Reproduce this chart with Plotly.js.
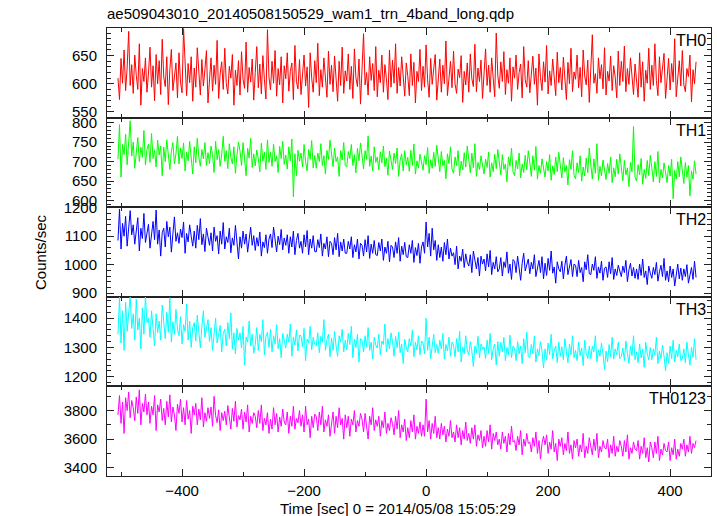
<!DOCTYPE html>
<html>
<head>
<meta charset="utf-8">
<script src="https://cdn.plot.ly/plotly-3.0.1.min.js"></script>
<style>html,body{margin:0;padding:0;background:#fff;}#chart{width:717px;height:516px;}</style>
</head>
<body>
<div id="chart"></div>
<script>
// Time bins (sec, relative to 2014/05/08 15:05:29)
const binStart = -505;
const binWidth = 2.5;

const panelLabels = ["TH0", "TH1", "TH2", "TH3", "TH0123"];

const th0 = [
610,572,645,601,660,588,628,693,597,634,
583,651,615,590,671,562,627,604,646,585,
619,665,594,632,570,652,600,641,581,679,
612,595,648,563,625,661,588,617,637,575,
655,603,584,698,621,579,636,602,648,569,
628,594,664,611,580,643,596,625,659,566,
605,646,587,633,599,677,574,618,639,590,
663,601,582,631,610,652,562,624,597,641,
580,657,608,592,674,585,629,603,644,571,
620,666,593,635,582,650,607,573,696,612,
589,640,601,659,578,627,598,648,566,632,
609,655,587,622,637,572,668,604,591,643,
581,619,651,596,630,558,655,610,585,641,
602,672,579,625,594,646,608,576,658,599,
633,586,649,610,569,640,597,665,583,623,
605,653,590,631,574,662,611,595,644,564,
627,689,598,620,580,648,606,636,588,666,
577,624,602,651,585,634,609,572,660,594,
642,601,671,583,629,596,648,610,578,637,
614,579,653,597,638,566,622,604,661,588,
631,594,669,607,576,645,599,626,652,571,
608,644,585,633,600,676,579,616,640,593,
658,600,583,626,611,650,567,622,598,637,
585,653,609,595,670,586,628,604,642,574,
619,662,597,633,585,646,610,577,690,615,
592,639,604,657,581,625,601,646,569,630,
610,651,590,620,635,575,666,607,594,641,
584,617,649,599,628,562,653,611,588,639,
603,668,582,623,597,644,609,579,656,602,
629,589,647,613,572,638,600,663,586,621,
608,651,593,629,577,660,614,598,642,567,
625,687,601,618,583,646,609,634,591,664,
580,622,605,649,588,632,612,575,658,597,
640,604,667,586,627,599,646,613,581,635,
611,576,655,594,639,569,624,601,663,590,
633,597,671,606,579,648,602,628,654,574,
607,645,589,636,603,680,577,619,641,596,
659,598,586,627,613,651,568,625,600,639];

const th1 = [
706,795,660,744,718,770,692,738,805,714,
750,683,727,762,700,737,711,780,692,731,
745,698,772,708,730,686,755,717,740,664,
737,700,756,712,680,726,749,694,720,765,
694,735,708,748,676,724,702,752,715,668,
738,697,760,712,688,731,707,749,690,723,
695,740,718,672,752,705,731,688,719,765,
701,728,682,746,711,694,738,670,717,750,
727,690,749,705,664,734,709,760,685,720,
689,730,708,674,747,701,724,680,756,698,
725,688,745,700,715,672,739,708,752,693,
717,681,738,702,758,610,720,664,729,701,
722,686,744,700,676,731,706,754,684,716,
683,722,700,746,690,715,668,729,706,755,
720,687,735,700,712,662,728,704,749,690,
686,726,708,744,690,718,671,734,702,748,
716,681,728,706,766,688,714,676,738,698,
712,679,725,697,740,687,709,665,727,702,
680,722,695,735,662,704,720,676,728,692,
711,675,729,690,745,668,702,684,719,699,
678,715,692,736,670,705,683,724,688,742,
709,674,726,689,703,656,720,695,738,681,
670,712,690,728,664,701,679,723,686,740,
705,671,722,684,746,662,698,680,715,693,
668,706,685,725,660,697,674,719,682,731,
702,666,718,680,694,648,712,688,735,674,
664,703,681,722,658,694,672,716,679,728,
698,662,715,678,739,655,690,670,707,686,
660,700,676,718,652,689,667,712,674,724,
694,658,710,673,690,640,705,680,728,665,
656,697,672,715,650,686,663,709,671,735,
692,655,707,670,746,652,688,664,704,679,
654,695,670,712,646,684,661,706,668,720,
688,651,703,666,684,636,698,674,790,660,
650,692,666,708,642,680,657,703,664,716,
684,648,700,662,726,645,680,658,697,672,
646,690,663,706,605,678,655,700,661,712,
682,644,698,660,690,612,676,655,702,668];

const th2 = [
1085,1195,1055,1145,1100,1170,1065,1125,1190,1105,
1140,1072,1112,1165,1048,1128,1092,1180,1078,1118,
1142,1058,1108,1152,1088,1192,1072,1122,1030,1112,
1128,1062,1152,1098,1132,1044,1108,1168,1082,1112,
1075,1125,1095,1150,1040,1110,1080,1140,1100,1065,
1118,1058,1138,1088,1162,1070,1108,1046,1128,1096,
1068,1112,1048,1132,1082,1102,1038,1118,1072,1148,
1055,1098,1078,1128,1042,1094,1068,1138,1084,1020,
1098,1058,1118,1072,1108,1044,1088,1132,1068,1102,
1050,1095,1065,1115,1030,1080,1060,1105,1040,1090,
1108,1060,1132,1078,1045,1100,1070,1124,1052,1094,
1068,1105,1040,1098,1062,1118,1035,1085,1110,1058,
1082,1040,1105,1062,1120,1035,1090,1058,1102,1046,
1045,1088,1060,1108,1030,1075,1055,1098,1028,1082,
1075,1035,1095,1052,1110,1028,1080,1048,1090,1040,
1040,1082,1055,1098,1025,1070,1045,1090,1020,1075,
1068,1030,1088,1045,1102,1022,1072,1040,1085,1035,
1032,1078,1048,1090,1015,1062,1040,1082,1010,1068,
1062,1025,1080,1040,1095,1012,1065,1035,1078,1028,
1025,1070,1040,1085,1008,1060,1032,1075,1005,1062,
1080,1040,1150,1062,1110,1030,1128,1052,1085,1015,
1070,1025,1062,1012,1078,1035,1090,1020,1058,1030,
1042,1000,1065,985,1030,1012,1055,990,1038,1008,
995,1035,972,1048,1010,985,1025,960,1030,1002,
1020,978,1038,992,1050,965,1008,985,1028,975,
985,1025,960,1010,990,1045,970,1002,948,1018,
1012,972,1030,988,945,1005,1040,978,995,1020,
968,1008,985,1035,958,995,1015,972,1028,950,
1005,962,1022,980,1048,970,992,935,1010,985,
975,1012,950,998,1030,965,990,1018,958,1002,
998,958,1015,972,990,940,1010,982,1035,968,
965,1002,980,1028,952,992,970,1012,945,988,
992,955,1010,968,1025,948,985,962,998,975,
958,995,972,1015,940,982,1005,960,990,952,
985,948,1002,962,1020,955,978,930,995,970,
952,990,965,1008,942,975,998,958,1022,945,
978,940,995,955,985,925,970,1002,950,988,
945,985,958,1000,935,968,990,948,1012,955];

const th3 = [
1345,1472,1315,1425,1290,1455,1355,1405,1476,1365,
1415,1325,1465,1360,1400,1295,1435,1345,1476,1385,
1400,1335,1425,1365,1305,1415,1350,1390,1325,1445,
1395,1330,1420,1352,1470,1318,1388,1345,1430,1362,
1340,1405,1312,1378,1355,1448,1325,1390,1300,1368,
1385,1322,1410,1345,1298,1372,1425,1335,1360,1395,
1320,1368,1290,1352,1400,1315,1340,1375,1285,1348,
1362,1305,1385,1330,1418,1295,1350,1278,1365,1325,
1350,1298,1372,1240,1336,1318,1390,1305,1345,1280,
1310,1368,1290,1345,1320,1395,1275,1338,1352,1300,
1362,1285,1340,1312,1378,1296,1330,1265,1348,1322,
1298,1345,1318,1380,1270,1335,1308,1360,1288,1342,
1340,1302,1365,1255,1328,1315,1372,1292,1335,1310,
1305,1350,1282,1338,1318,1395,1290,1326,1345,1268,
1332,1290,1355,1305,1270,1340,1318,1362,1285,1325,
1292,1348,1310,1372,1265,1328,1300,1345,1250,1330,
1325,1285,1340,1302,1368,1290,1318,1260,1335,1308,
1298,1345,1275,1322,1310,1380,1285,1330,1295,1350,
1320,1270,1338,1298,1352,1282,1312,1245,1328,1300,
1285,1330,1305,1360,1268,1318,1292,1340,1275,1322,
1315,1278,1400,1290,1335,1262,1308,1345,1282,1310,
1280,1325,1295,1348,1260,1310,1288,1335,1270,1318,
1308,1268,1330,1285,1355,1250,1302,1278,1340,1290,
1275,1320,1288,1235,1305,1282,1338,1265,1312,1295,
1302,1262,1325,1280,1348,1258,1295,1312,1240,1320,
1270,1318,1285,1335,1255,1300,1275,1342,1265,1305,
1298,1255,1320,1278,1305,1245,1330,1282,1352,1268,
1265,1310,1280,1338,1250,1295,1272,1320,1288,1230,
1295,1258,1315,1275,1345,1262,1288,1305,1248,1318,
1270,1302,1258,1330,1285,1248,1312,1275,1340,1265,
1290,1255,1318,1272,1298,1238,1325,1280,1262,1305,
1262,1305,1285,1340,1250,1292,1270,1315,1278,1225,
1288,1250,1310,1268,1335,1260,1295,1275,1318,1262,
1268,1298,1255,1322,1280,1245,1305,1272,1340,1258,
1285,1248,1312,1265,1295,1232,1318,1278,1258,1300,
1258,1295,1275,1335,1245,1288,1262,1308,1270,1220,
1282,1245,1305,1262,1325,1250,1290,1268,1312,1255,
1262,1295,1248,1318,1275,1240,1300,1266,1330,1258];

const th0123 = [
3770,3905,3710,3860,3640,3890,3800,3930,3750,3870,
3820,3730,3895,3780,3945,3700,3850,3790,3915,3770,
3860,3710,3830,3770,3905,3660,3840,3790,3880,3730,
3815,3700,3865,3755,3910,3720,3825,3770,3660,3845,
3780,3880,3720,3820,3700,3870,3740,3800,3640,3830,
3770,3850,3700,3810,3735,3890,3685,3785,3725,3820,
3745,3825,3690,3900,3765,3715,3805,3660,3785,3730,
3795,3700,3835,3745,3670,3815,3725,3865,3685,3765,
3735,3810,3670,3790,3720,3840,3650,3760,3710,3785,
3760,3680,3800,3710,3840,3660,3745,3700,3785,3640,
3740,3670,3820,3700,3780,3650,3755,3690,3810,3720,
3700,3790,3640,3760,3690,3830,3670,3745,3715,3800,
3690,3770,3650,3830,3700,3740,3610,3760,3680,3775,
3760,3660,3790,3700,3830,3650,3735,3690,3770,3620,
3710,3790,3640,3760,3680,3820,3700,3745,3600,3770,
3680,3760,3620,3740,3700,3800,3650,3730,3690,3780,
3740,3650,3780,3690,3600,3760,3700,3820,3660,3735,
3690,3760,3620,3730,3680,3790,3640,3710,3660,3750,
3710,3630,3760,3670,3800,3610,3700,3650,3740,3590,
3680,3610,3730,3650,3770,3600,3690,3640,3720,3620,
3700,3620,3880,3650,3730,3600,3710,3640,3760,3610,
3680,3600,3710,3630,3690,3580,3670,3620,3730,3610,
3650,3580,3700,3610,3680,3560,3660,3600,3720,3590,
3640,3570,3680,3600,3700,3550,3630,3590,3660,3540,
3620,3550,3660,3580,3700,3530,3640,3590,3650,3560,
3600,3530,3650,3570,3620,3510,3640,3560,3690,3580,
3590,3520,3620,3560,3660,3490,3600,3550,3640,3570,
3580,3510,3610,3550,3650,3500,3590,3460,3570,3620,
3560,3630,3500,3580,3530,3660,3510,3570,3450,3600,
3550,3610,3490,3570,3520,3650,3500,3560,3460,3590,
3540,3600,3480,3560,3510,3640,3470,3550,3500,3610,
3560,3490,3600,3520,3640,3470,3550,3510,3590,3540,
3530,3600,3470,3560,3500,3620,3480,3550,3510,3590,
3550,3480,3590,3510,3630,3460,3540,3500,3580,3530,
3520,3590,3460,3550,3500,3610,3470,3540,3440,3580,
3540,3470,3580,3500,3620,3450,3530,3490,3570,3520,
3510,3580,3450,3540,3490,3600,3460,3530,3480,3570,
3530,3600,3480,3560,3510,3620,3500,3570,3540,3590];

const series = [th0, th1, th2, th3, th0123];
const colors = ["#ff0000", "#00ff00", "#0000ff", "#00ffff", "#ff00ff"];

const time = th0.map((_, i) => binStart + i * binWidth);

const yRanges = [[540, 699], [583, 813], [887, 1202], [1167, 1473], [3342, 3969]];
const yDticks = [50, 50, 100, 100, 200];
const yMinor = [10, 10, 20, 20, 100];

const W = 717, H = 516;
const margin = {l: 107, r: 6, t: 28, b: 40};
const plotW = W - margin.l - margin.r;
const plotH = H - margin.t - margin.b;

const traces = series.map((s, i) => ({
  x: time, y: s, type: "scatter", mode: "lines",
  line: {color: colors[i], width: 1},
  xaxis: i === 0 ? "x" : "x" + (i + 1),
  yaxis: i === 0 ? "y" : "y" + (i + 1),
  hoverinfo: "skip"
}));

const layout = {
  width: W, height: H, margin: margin,
  paper_bgcolor: "#fff", plot_bgcolor: "#fff",
  showlegend: false,
  font: {family: "Liberation Sans, Arial, sans-serif", size: 15, color: "#000"},
  title: {text: "ae509043010_20140508150529_wam1_trn_4band_long.qdp",
          x: 0, xref: "paper", xanchor: "left", y: 1 - 14 / H, yref: "container", yanchor: "middle",
          font: {size: 15, color: "#000"}},
  annotations: []
};

for (let i = 0; i < 5; i++) {
  const n = i + 1;
  const xk = i === 0 ? "xaxis" : "xaxis" + n;
  const yk = i === 0 ? "yaxis" : "yaxis" + n;
  const ya = i === 0 ? "y" : "y" + n;
  const top = 1 - i / 5, bot = 1 - (i + 1) / 5;
  layout[xk] = {
    anchor: ya, range: [-523, 467], dtick: 200, tick0: 0,
    ticks: "inside", ticklen: 7, tickcolor: "#222", tickwidth: 1,
    showline: true, linecolor: "#222", linewidth: 1, mirror: "ticks",
    showgrid: false, zeroline: false,
    showticklabels: i === 4, ticklabelstandoff: 1,
    minor: {dtick: 100, tick0: 0, ticks: "inside", ticklen: 4, tickcolor: "#222", showgrid: false}
  };
  if (i > 0) layout[xk].matches = "x";
  layout[yk] = {
    domain: [bot, top], anchor: i === 0 ? "x" : "x" + n,
    range: yRanges[i], dtick: yDticks[i], tick0: 0,
    ticks: "inside", ticklen: 7, tickcolor: "#222", tickwidth: 1,
    showline: true, linecolor: "#222", linewidth: 1, mirror: "ticks",
    showgrid: false, zeroline: false, ticklabelstandoff: 6,
    minor: {dtick: yMinor[i], tick0: 0, ticks: "inside", ticklen: 4, tickcolor: "#222", showgrid: false}
  };
  layout.annotations.push({
    text: panelLabels[i], xref: "paper", yref: "paper",
    x: 1 - 3 / plotW, y: top - 2 / plotH, xanchor: "right", yanchor: "top",
    showarrow: false, font: {size: 16, color: "#000"}
  });
}

layout.annotations.push({
  text: "Counts/sec", xref: "paper", yref: "paper",
  x: (40 - margin.l) / plotW, y: 0.5, textangle: -90,
  xanchor: "center", yanchor: "middle", showarrow: false, font: {size: 15, color: "#000"}
});
layout.annotations.push({
  text: "Time [sec] 0 = 2014/05/08 15:05:29", xref: "paper", yref: "paper",
  x: (398 - margin.l) / plotW, y: -(508 - (H - margin.b)) / plotH,
  xanchor: "center", yanchor: "middle", showarrow: false, font: {size: 15, color: "#000"}
});

Plotly.newPlot("chart", traces, layout, {displayModeBar: false, staticPlot: true});
</script>
</body>
</html>
